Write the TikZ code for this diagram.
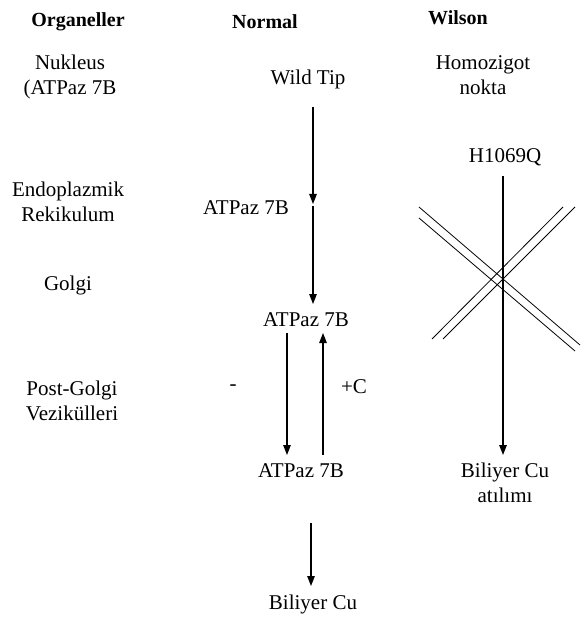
\documentclass[tikz,border=0pt]{standalone}
\usepackage{fontspec}
\setmainfont{Liberation Serif}
\usetikzlibrary{arrows.meta}
\tikzset{
  lbl/.style={inner sep=0pt, font=\fontsize{21}{25}\selectfont, align=center, text height=14pt, text depth=4pt},
  hdr/.style={inner sep=0pt, font=\fontsize{20}{24}\selectfont\bfseries, text height=14pt, text depth=4pt},
  arr/.style={line width=1.3pt, -{Triangle[length=10pt,width=7.5pt]}},
  xline/.style={line width=0.8pt}
}
\begin{document}
\begin{tikzpicture}[x=1pt,y=-1pt]
\useasboundingbox (0,0) rectangle (581,617);
% headers
\node[hdr] (h1) at (78,22) {Organeller};
\node[hdr] (h2) at (265,24) {Normal};
\node[hdr] (h3) at (458,20) {Wilson};
% organelles
\node[lbl] (o1) at (70,90) {Nukleus\\(ATPaz 7B};
\node[lbl] (o2) at (68,217) {Endoplazmik\\Rekikulum};
\node[lbl] (o3) at (68,285) {Golgi};
\node[lbl] (o4) at (72,415) {Post-Golgi\\Vezikülleri};
% normal column
\node[lbl] (n1) at (308,80) {Wild Tip};
\node[lbl] (n2) at (246,210) {ATPaz 7B};
\node[lbl] (n3) at (306,321) {ATPaz 7B};
\node[lbl] (n4) at (301,472) {ATPaz 7B};
\node[lbl] (n5) at (313,604) {Biliyer Cu};
\node[lbl] (m) at (233,385) {-};
\node[lbl] (pc) at (354,388) {+C};
% wilson column
\node[lbl] (w1) at (483,90) {Homozigot\\nokta};
\node[lbl] (w2) at (505,158) {H1069Q};
\node[lbl] (w3) at (505,497) {Biliyer Cu\\atılımı};
% arrow coordinates
\coordinate (a1s) at (313,107);
\coordinate (a1e) at (313,204);
\coordinate (a2s) at (313,206);
\coordinate (a2e) at (313,304);
\coordinate (a3s) at (287,333);
\coordinate (a3e) at (287,455);
\coordinate (a4s) at (323,455);
\coordinate (a4e) at (323,333);
\coordinate (a5s) at (311,523);
\coordinate (a5e) at (311,586);
\coordinate (w1s) at (503,176);
\coordinate (w1e) at (503,455);
\draw[arr] (a1s) -- (a1e);
\draw[arr] (a2s) -- (a2e);
\draw[arr] (a3s) -- (a3e);
\draw[arr] (a4s) -- (a4e);
\draw[arr] (a5s) -- (a5e);
\draw[arr] (w1s) -- (w1e);
% cross
\coordinate (xa1) at (419,207); \coordinate (xa2) at (580,345);
\coordinate (xb1) at (419,218); \coordinate (xb2) at (575,351);
\coordinate (xc1) at (563,207); \coordinate (xc2) at (432,339);
\coordinate (xd1) at (575,207); \coordinate (xd2) at (443,339);
\draw[xline] (xa1) -- (xa2);
\draw[xline] (xb1) -- (xb2);
\draw[xline] (xc1) -- (xc2);
\draw[xline] (xd1) -- (xd2);
\end{tikzpicture}
\end{document}
